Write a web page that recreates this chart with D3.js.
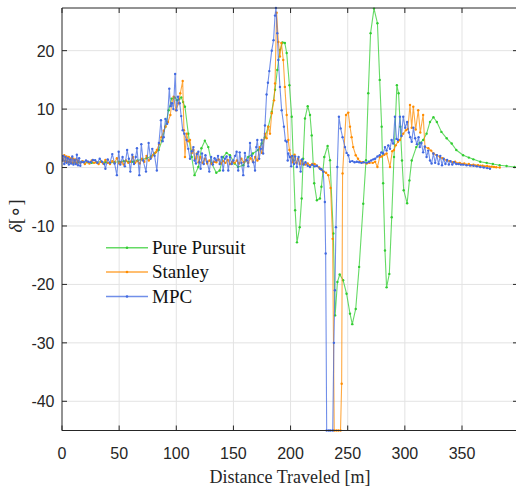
<!DOCTYPE html>
<html>
<head>
<meta charset="utf-8">
<script src="https://cdn.jsdelivr.net/npm/d3@7"></script>
<style>
  body { margin: 0; background: #fff; overflow: hidden; }
  svg { display: block; }
</style>
</head>
<body>
<div id="chart"></div>
<script>
// Steering angle vs distance, three controllers

var xTicks = [0, 50, 100, 150, 200, 250, 300, 350]
var yTicks = [-40, -30, -20, -10, 0, 10, 20]
var seriesNames = ["Pure Pursuit", "Stanley", "MPC"]

// Pure Pursuit
var ppX = [0,3,6,10,14,18,22,26,30,34,38,42,46,50,54,58,62,66,70,74,78,81,84.6,87.5,90.4,93.3,96,98.5,100.6,102.5,104.4,106,107.6,110.5,113.5,116,119.3,122,125,128,131,135,138,141,144,147,151,154,158.6,163,167,171.7,174.7,177.6,180.5,183.5,186.4,188.4,190.7,193,195,196.6,199,201,202.4,204,205.6,208,209.7,211,212.6,215,217,218.5,220.7,223,225.7,227,229.5,232.4,234.5,237.4,239,241,243,246,249,252,254,257,260,263.6,266,268,270,273,276,278,279.7,281,282.6,284,286.4,288.5,290.5,293,294.5,296,297.5,299,302,304,306,310,313,316,319,322,325,328,332,336.6,341,345,351,356,360,366,371.6,377,383,389,396]
var ppY = [1.3,1.1,0.9,0.8,0.9,1.0,0.9,0.8,0.9,1.0,0.9,0.8,0.9,1.0,1.1,1.0,1.0,1.2,1.4,1.6,1.9,2.4,3.0,4.6,7.0,9.8,11.8,12.0,11.5,11.7,12.0,11.2,10.4,5.8,1.8,-1.3,0.1,3.3,4.6,3.5,0.7,-0.9,-0.5,1.8,2.5,2.1,0.7,0.1,0.4,1.8,2.4,3.0,4.1,5.2,7.0,9.5,13.3,16.7,20.1,21.4,21.3,19.6,14.1,8.7,1.25,-7.3,-12.8,-10.2,-5.3,1.5,8.4,10.5,9.0,5.5,-2.7,-5.6,-5.3,-3.3,1.8,3.7,1.25,-11.3,-25.3,-19.6,-18.3,-19.3,-21.6,-25.0,-26.8,-24.2,-17.0,-6.2,1.25,12.7,23.0,27.2,24.7,15.0,7.0,-2.7,-14.2,-20.5,-18.2,-8.5,1.8,14.1,12.7,7.0,1.2,-3.9,-6.1,-2.2,1.2,3.5,4.2,4.7,5.8,7.8,8.6,7.8,6.1,5.0,4.1,3.0,2.1,1.7,1.4,1.0,0.8,0.6,0.4,0.25,0.1]

// Stanley
var stX = [0,1,2,3,4,5,6,7,8,9,10,11,12,13,14,16,18,20,22,24,26,28,30,32,34,36,38,40,42,44,46,48,50,52,54,56,58,60,62,64,66,68,70,72,74,76,78,80,82,83,85,87,89,90.5,92.7,94.8,96,97.7,99.7,102,103.5,105.6,106.7,107.6,109,110.5,112,113.5,115,116.5,118,119.5,121,123,125,127,129,131,133,135,137,139,141,143,145,147,149,151,153,155,157,159,161,163,165,167,169,171,173,175,177.6,179,180.5,182,183.5,185.5,186.4,187.8,189.3,190.7,192,193.6,195,196.6,198,199,200.5,202,203.5,205,206.5,208,209.5,211,213,215,217,219,221,223,225,227,229,231,233,235,236.8,238.2,240,241.8,243.7,244.7,245.5,248.5,250.5,252,253.4,254.8,257,259,260.7,263,266.6,269,272,274,276,278,280,282,284,287,289,290.5,292,294,295.7,298.6,301,302.6,304.5,306,307.4,309.5,311.7,313.5,316,317.6,320.5,323,325,328,330.7,333,336.6,339,342,344,346,348,350,352,354,356,358,360,362,364,366,368,370,372,374,376,378,380,383]
var stY = [2.0,1.2,2.1,1.0,1.9,0.9,1.8,1.0,1.6,0.8,1.5,0.9,1.4,0.7,1.2,0.8,1.1,0.6,1.0,0.7,1.2,0.8,0.9,0.6,1.0,0.7,1.3,0.8,0.6,1.1,0.8,1.6,0.7,0.9,0.5,1.2,0.8,1.0,1.8,0.8,1.1,0.7,1.5,1.0,2.0,1.2,1.7,2.2,2.6,3.0,4.0,5.2,6.3,7.0,7.8,9.0,11.0,12.1,9.8,11.0,12.7,14.8,6.4,1.8,5.8,4.5,4.7,2.5,3.0,1.5,2.4,0.9,1.8,0.8,1.5,0.7,1.2,0.6,1.0,0.9,1.4,0.7,1.1,0.8,1.3,0.6,1.0,0.8,1.2,0.7,1.5,0.9,1.3,0.8,1.6,1.0,1.8,1.2,3.5,2.5,5.8,5.0,7.0,5.8,9.3,11.5,14.4,26.5,21.5,19.0,21.3,18.4,13.8,9.0,4.7,3.0,1.8,0.9,2.2,0.8,1.5,0.6,1.2,0.6,0.5,0.7,0.4,0.6,0.6,0.3,0.0,-0.4,-0.7,-0.9,-1.3,-3.5,-12.2,-45,-45,-45,-45,-37,-1.0,9.0,9.4,7.0,5.2,3.5,2.1,1.5,1.0,0.9,0.7,0.8,0.8,1.0,0.1,1.8,1.9,2.2,2.4,0.1,2.8,3.0,3.8,4.4,4.7,5.8,6.4,6.6,10.7,6.8,10.4,6.5,9.8,6.0,9.0,3.5,3.3,2.9,2.4,2.1,1.8,1.6,1.25,1.1,0.9,1.0,0.7,0.8,0.6,0.7,0.5,0.6,0.4,0.5,0.35,0.4,0.3,0.3,0.2,0.25,0.15,0.15,0.1,0.05,0.0]

// MPC
var mpcX = [0,1,2,3,4,5,6,7,8,9,10,11,12,13,14,15,16,17,19,21,23,25,27,29,31,33,35,37,38,40,42,44,46,48,49.6,51,53,55,57,58.5,59.8,61.5,63,64.5,65.6,67.7,69.4,71,73.5,75.8,77.5,79,81,83,84.8,86.6,88,89,90.5,92,93.9,95,96.2,97.5,99,100.2,101.5,103,104.3,105.6,107,109,110.5,112,113.5,115,116,117.2,118,119.3,120.3,121.3,122.5,124,125.5,127,128.9,130.5,132,133.5,135,136.5,138,139.7,141,142.5,144,145.5,147,148.5,150,151.5,152.8,154.2,155.5,157,158.6,160,161.6,163,164.5,166,167.5,168.9,170,170.9,172.5,174,174.7,176,177.6,179,180.2,181.4,183.5,185.1,186.4,187.2,188.4,189.3,190.7,192.2,194.2,195.5,196.6,197.5,198,199.5,200.5,201.5,203,204,205.5,207,208.8,210,211.5,213,215,217,219,221,223,225.7,227,228.6,230,230.7,231.6,233.5,235,236.9,237.9,238.8,239.7,240.9,242.3,243.8,245.5,247.6,249,250.5,252,254,256,258,260,262,264,266.6,268.5,270.5,272.4,274,276,278,279.5,281,282.6,284,285.5,287,288.4,289.8,291.3,292.7,294,295.7,297,298.6,300.3,302,303.5,304.7,306,307.5,309,310.5,312,313,314.5,316,317.5,319,320.5,322,323.4,325,326.5,328,329.5,331,332.5,334,335.5,337,338.5,340,341.5,343,345,347,349,351,354,357,360,363,366,369,372,374.5]
var mpcY = [1.2,2.0,0.6,1.8,0.8,1.6,0.5,1.4,0.7,1.9,0.5,1.3,0.6,2.2,0.4,1.6,0.3,1.0,0.9,1.2,1.0,0.9,1.3,1.25,0.8,1.5,1.0,0.6,-0.2,1.4,0.8,2.3,0.7,-1.3,2.7,0.5,1.8,0.2,3.0,1.5,-0.7,2.2,0.6,1.8,3.3,-1.3,4.0,1.2,-0.7,4.2,1.5,3.2,2.0,-0.5,4.2,8.1,4.5,5.2,8.3,7.5,13.5,10.5,11.0,10.0,16.0,9.8,12.1,11.0,8.8,6.4,5.8,4.7,3.2,1.5,2.8,3.5,1.2,0.7,2.3,2.7,0.9,-0.2,2.4,0.6,2.1,1.0,-0.7,1.8,0.5,1.6,1.2,2.0,0.6,1.8,-0.5,1.5,1.9,-0.5,1.8,0.6,1.2,2.0,2.7,-0.5,2.6,0.8,-1.3,2.5,1.25,0.2,4.2,2.0,0.9,-0.5,3.5,4.7,1.5,3.2,4.7,2.4,7.2,12.5,14.5,16.5,20.0,21.8,26.0,27.3,23.0,18.4,13.8,9.8,7.0,4.6,4.4,1.2,2.4,1.8,0.2,2.0,0.6,1.9,0.1,1.8,-0.7,1.4,0.5,0.9,0.3,0.1,0.5,0.2,0.3,-0.2,-0.3,-0.7,-5.9,-14.7,-45,-45,-45,-45,-30,-21,-10.2,0.1,8.7,6.7,5.2,3.5,2.5,2.1,1.0,1.1,0.9,1.0,0.9,0.8,0.9,0.8,1.0,1.2,1.4,1.5,1.9,2.1,2.6,2.4,3.5,2.9,3.8,3.2,4.7,4.1,8.7,4.9,4.7,8.7,5.4,8.7,6.8,7.8,6.0,5.2,4.4,6.8,5.0,4.0,5.2,3.5,4.2,2.6,3.6,1.8,2.9,1.2,0.7,2.4,0.8,2.1,0.6,2.0,0.4,1.5,0.6,1.3,0.5,1.1,0.5,0.9,0.6,0.6,0.5,0.5,0.4,0.35,0.3,0.2,0.1,0.0,-0.1,-0.2]

var colors = ["#32cd32", "#ff8c00", "#4169e1"]

var W = 516, H = 491
var plotL = 62, plotT = 8, plotB = 430.5, plotR = 518

var svg = d3.select("#chart").append("svg")
    .attr("width", W)
    .attr("height", H)

var x = d3.scaleLinear().domain([0, 399]).range([plotL, plotR])
var y = d3.scaleLinear().domain([-45, 27.3]).range([plotB, plotT])

var axisColor = "#262626"
var gridColor = "#e3e3e3"

// grid
var grid = svg.append("g")
xTicks.forEach(function(t) {
    if (t == 0) return
    grid.append("line")
        .attr("x1", x(t)).attr("x2", x(t))
        .attr("y1", plotT).attr("y2", plotB)
        .attr("stroke", gridColor).attr("stroke-width", 1)
})
yTicks.forEach(function(t) {
    grid.append("line")
        .attr("x1", plotL).attr("x2", plotR)
        .attr("y1", y(t)).attr("y2", y(t))
        .attr("stroke", gridColor).attr("stroke-width", 1)
})

// clip a hair larger than the plot box so saturated -45 points stay visible
svg.append("clipPath").attr("id", "clip")
    .append("rect")
    .attr("x", plotL).attr("y", plotT - 2)
    .attr("width", plotR - plotL).attr("height", plotB - plotT + 4)

var plot = svg.append("g").attr("clip-path", "url(#clip)")

var allSeries = [
    {xs: ppX, ys: ppY},
    {xs: stX, ys: stY},
    {xs: mpcX, ys: mpcY}
]

var line = d3.line()
    .x(d => x(d[0]))
    .y(d => y(d[1]))

allSeries.forEach(function(s, i) {
    var pts = s.xs.map(function(v, j) { return [v, s.ys[j]] })
    plot.append("path")
        .datum(pts)
        .attr("fill", "none")
        .attr("stroke", colors[i])
        .attr("stroke-width", 1.1)
        .attr("stroke-opacity", 0.75)
        .attr("stroke-linejoin", "round")
        .attr("d", line)
    plot.append("g").selectAll("circle")
        .data(pts)
        .enter().append("circle")
        .attr("cx", d => x(d[0]))
        .attr("cy", d => y(d[1]))
        .attr("r", 1.2)
        .attr("fill", colors[i])
})

// axes box (left, top, bottom, right with inward ticks)
var axes = svg.append("g")
    .attr("stroke", axisColor)
    .attr("stroke-width", 1)
    .attr("fill", "none")
axes.append("line").attr("x1", plotL).attr("x2", plotL).attr("y1", plotT).attr("y2", plotB)
axes.append("line").attr("x1", plotL).attr("x2", plotR).attr("y1", plotT).attr("y2", plotT)
axes.append("line").attr("x1", plotL).attr("x2", plotR).attr("y1", plotB).attr("y2", plotB)
axes.append("line").attr("x1", plotR).attr("x2", plotR).attr("y1", plotT).attr("y2", plotB)

var tickLen = 5
xTicks.forEach(function(t) {
    axes.append("line").attr("x1", x(t)).attr("x2", x(t)).attr("y1", plotB).attr("y2", plotB - tickLen)
    axes.append("line").attr("x1", x(t)).attr("x2", x(t)).attr("y1", plotT).attr("y2", plotT + tickLen)
})
yTicks.forEach(function(t) {
    axes.append("line").attr("x1", plotL).attr("x2", plotL + tickLen).attr("y1", y(t)).attr("y2", y(t))
    axes.append("line").attr("x1", plotR).attr("x2", plotR - tickLen).attr("y1", y(t)).attr("y2", y(t))
})

// tick labels
svg.append("g").selectAll("text")
    .data(xTicks)
    .enter().append("text")
    .attr("x", d => x(d))
    .attr("y", 459)
    .attr("text-anchor", "middle")
    .attr("font-family", "'Liberation Sans', Arial, sans-serif")
    .attr("font-size", 16)
    .attr("fill", axisColor)
    .text(d => d)

svg.append("g").selectAll("text")
    .data(yTicks)
    .enter().append("text")
    .attr("x", 54.5)
    .attr("y", d => y(d) + 6)
    .attr("text-anchor", "end")
    .attr("font-family", "'Liberation Sans', Arial, sans-serif")
    .attr("font-size", 16)
    .attr("fill", axisColor)
    .text(d => d)

// axis labels
svg.append("text")
    .attr("x", 290)
    .attr("y", 483)
    .attr("text-anchor", "middle")
    .attr("font-family", "'Liberation Serif', 'Times New Roman', serif")
    .attr("font-size", 18)
    .attr("fill", axisColor)
    .text("Distance Traveled [m]")

var ylab = svg.append("text")
    .attr("transform", "translate(22,216) rotate(-90)")
    .attr("text-anchor", "middle")
    .attr("font-family", "'Liberation Serif', 'Times New Roman', serif")
    .attr("font-size", 18)
    .attr("fill", axisColor)
ylab.append("tspan").attr("font-style", "italic").text("δ")
ylab.append("tspan").text("[")
ylab.append("tspan").attr("font-family", "'DejaVu Sans', sans-serif").attr("font-size", 20).text("∘")
ylab.append("tspan").text("]")

// legend (no box)
var legend = svg.append("g")
var legendY = [247.7, 272, 296.5]
seriesNames.forEach(function(name, i) {
    legend.append("line")
        .attr("x1", 106).attr("x2", 148)
        .attr("y1", legendY[i]).attr("y2", legendY[i])
        .attr("stroke", colors[i])
        .attr("stroke-opacity", 0.75)
        .attr("stroke-width", 1.4)
    legend.append("circle")
        .attr("cx", 127).attr("cy", legendY[i])
        .attr("r", 1.3).attr("fill", colors[i])
    legend.append("text")
        .attr("x", 152)
        .attr("y", legendY[i] + 6)
        .attr("font-family", "'Liberation Serif', 'Times New Roman', serif")
        .attr("font-size", 19)
        .attr("fill", "#111")
        .text(name)
})
</script>
</body>
</html>
